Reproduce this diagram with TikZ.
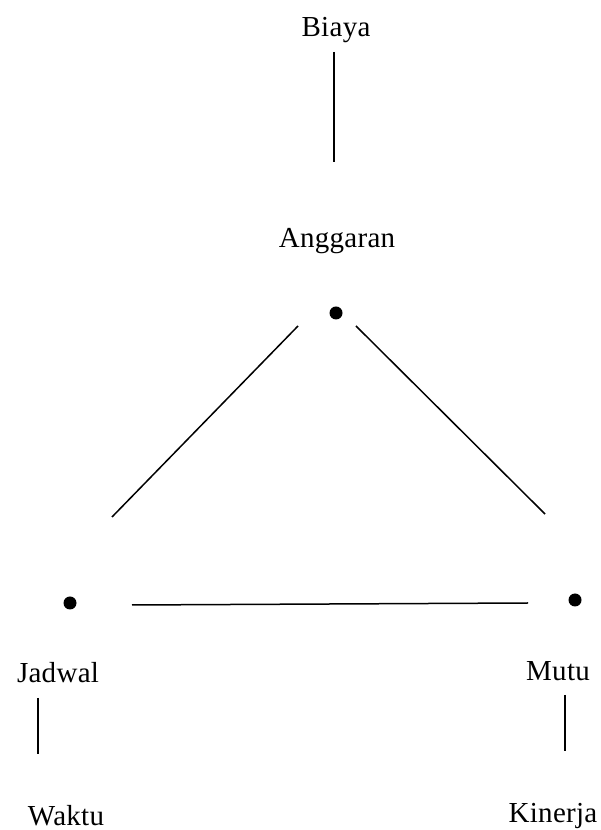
\documentclass[tikz,border=0pt]{standalone}
\usepackage{fontspec}
\setmainfont{Liberation Serif}
\newfontfamily\ketikfont[LetterSpace=1]{Liberation Serif}
\usepackage{tikz}
\usetikzlibrary{positioning}

\begin{document}
\begin{tikzpicture}[x=1pt, y=1pt,
    teks/.style={font=\ketikfont\fontsize{29}{31}\selectfont, anchor=base, inner sep=0pt},
    titik/.style={circle, fill=black, inner sep=0pt, minimum size=13pt},
    garis/.style={line width=1.5pt}]
  \useasboundingbox (0,0) rectangle (601,830);
  % labels
  \node[teks] (biaya)    at (336,793) {Biaya};
  \node[teks] (anggaran) at (337,582) {Anggaran};
  \node[teks] (jadwal)   at (58,147)  {Jadwal};
  \node[teks] (mutu)     at (558,149) {Mutu};
  \node[teks] (waktu)    at (66,5)    {Waktu};
  \node[teks] (kinerja)  at (553,8)   {Kinerja};
  % dots
  \node[titik] (tAtas)  at (336,517) {};
  \node[titik] (tKiri)  at (70,227)  {};
  \node[titik] (tKanan) at (575,230) {};
  % line ends
  \coordinate (biayaA)  at (334,778);
  \coordinate (biayaB)  at (334,668);
  \coordinate (kiriA)   at (298,504);
  \coordinate (kiriB)   at (112,313);
  \coordinate (kananA)  at (356,504);
  \coordinate (kananB)  at (545,316);
  \coordinate (bawahA)  at (132,225);
  \coordinate (bawahB)  at (528,227);
  \coordinate (jadwalA) at (38,132);
  \coordinate (jadwalB) at (38,76);
  \coordinate (mutuA)   at (565,135);
  \coordinate (mutuB)   at (565,79);
  % lines
  \draw[garis] (biayaA) -- (biayaB);
  \draw[garis] (kiriA) -- (kiriB);
  \draw[garis] (kananA) -- (kananB);
  \draw[garis] (bawahA) -- (bawahB);
  \draw[garis] (jadwalA) -- (jadwalB);
  \draw[garis] (mutuA) -- (mutuB);
\end{tikzpicture}
\end{document}
